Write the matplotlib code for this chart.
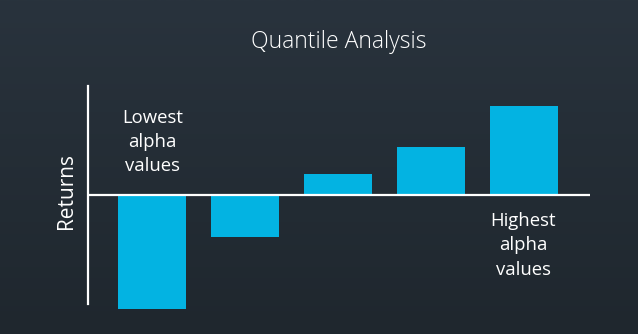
import numpy as np
import matplotlib.pyplot as plt
from matplotlib.colors import LinearSegmentedColormap

# --- data ---
quantiles = ["Q1", "Q2", "Q3", "Q4", "Q5"]
returns = [-5.43, -2.0, 1.0, 2.29, 4.24]

title = "Quantile Analysis"
y_label = "Returns"
low_note = "Lowest\nalpha\nvalues"
high_note = "Highest\nalpha\nvalues"

W, H = 638, 334
fig = plt.figure(figsize=(W / 100, H / 100), dpi=100)

# --- background gradient ---
bg = fig.add_axes([0, 0, 1, 1])
bg_cmap = LinearSegmentedColormap.from_list("bg", ["#1f272e", "#29333d"])
bg.imshow(np.linspace(0, 1, 256).reshape(-1, 1), aspect="auto", cmap=bg_cmap,
          origin="lower", extent=[0, 1, 0, 1])
bg.set_axis_off()

# --- main axes (pixel placement) ---
left, right, top, bottom = 88, 590, 86, 304
ax = fig.add_axes([left / W, (H - bottom) / H, (right - left) / W, (bottom - top) / H])
ax.set_facecolor("none")

x = np.arange(len(quantiles))
ax.bar(x, returns, width=0.73, color="#03b3e2", clip_on=False, zorder=2)
ax.axhline(0, color="white", linewidth=1.6, zorder=3)

ax.set_xlim(-0.691, 4.707)
ax.set_ylim(-5.19, 5.19)
for s in ["top", "right", "bottom"]:
    ax.spines[s].set_visible(False)
ax.spines["left"].set_color("white")
ax.spines["left"].set_linewidth(1.6)
ax.set_xticks([])
ax.set_yticks([])

font = "Open Sans"
ax.set_ylabel(y_label, color="white", fontsize=15, family=font)
ax.yaxis.set_label_coords(-0.022, 0.518)

fig.text(339 / W, 1 - 42 / H, title, ha="center", va="center", color="white",
         fontsize=16.6, family=font, fontweight="light")

ax.text(0, 2.52, low_note, ha="center", va="center", color="white",
        fontsize=13.3, family=font, linespacing=1.45)
ax.text(3.99, -2.4, high_note, ha="center", va="center", color="white",
        fontsize=13.3, family=font, linespacing=1.45)

fig.savefig("out.png", dpi=100, facecolor=fig.get_facecolor())
